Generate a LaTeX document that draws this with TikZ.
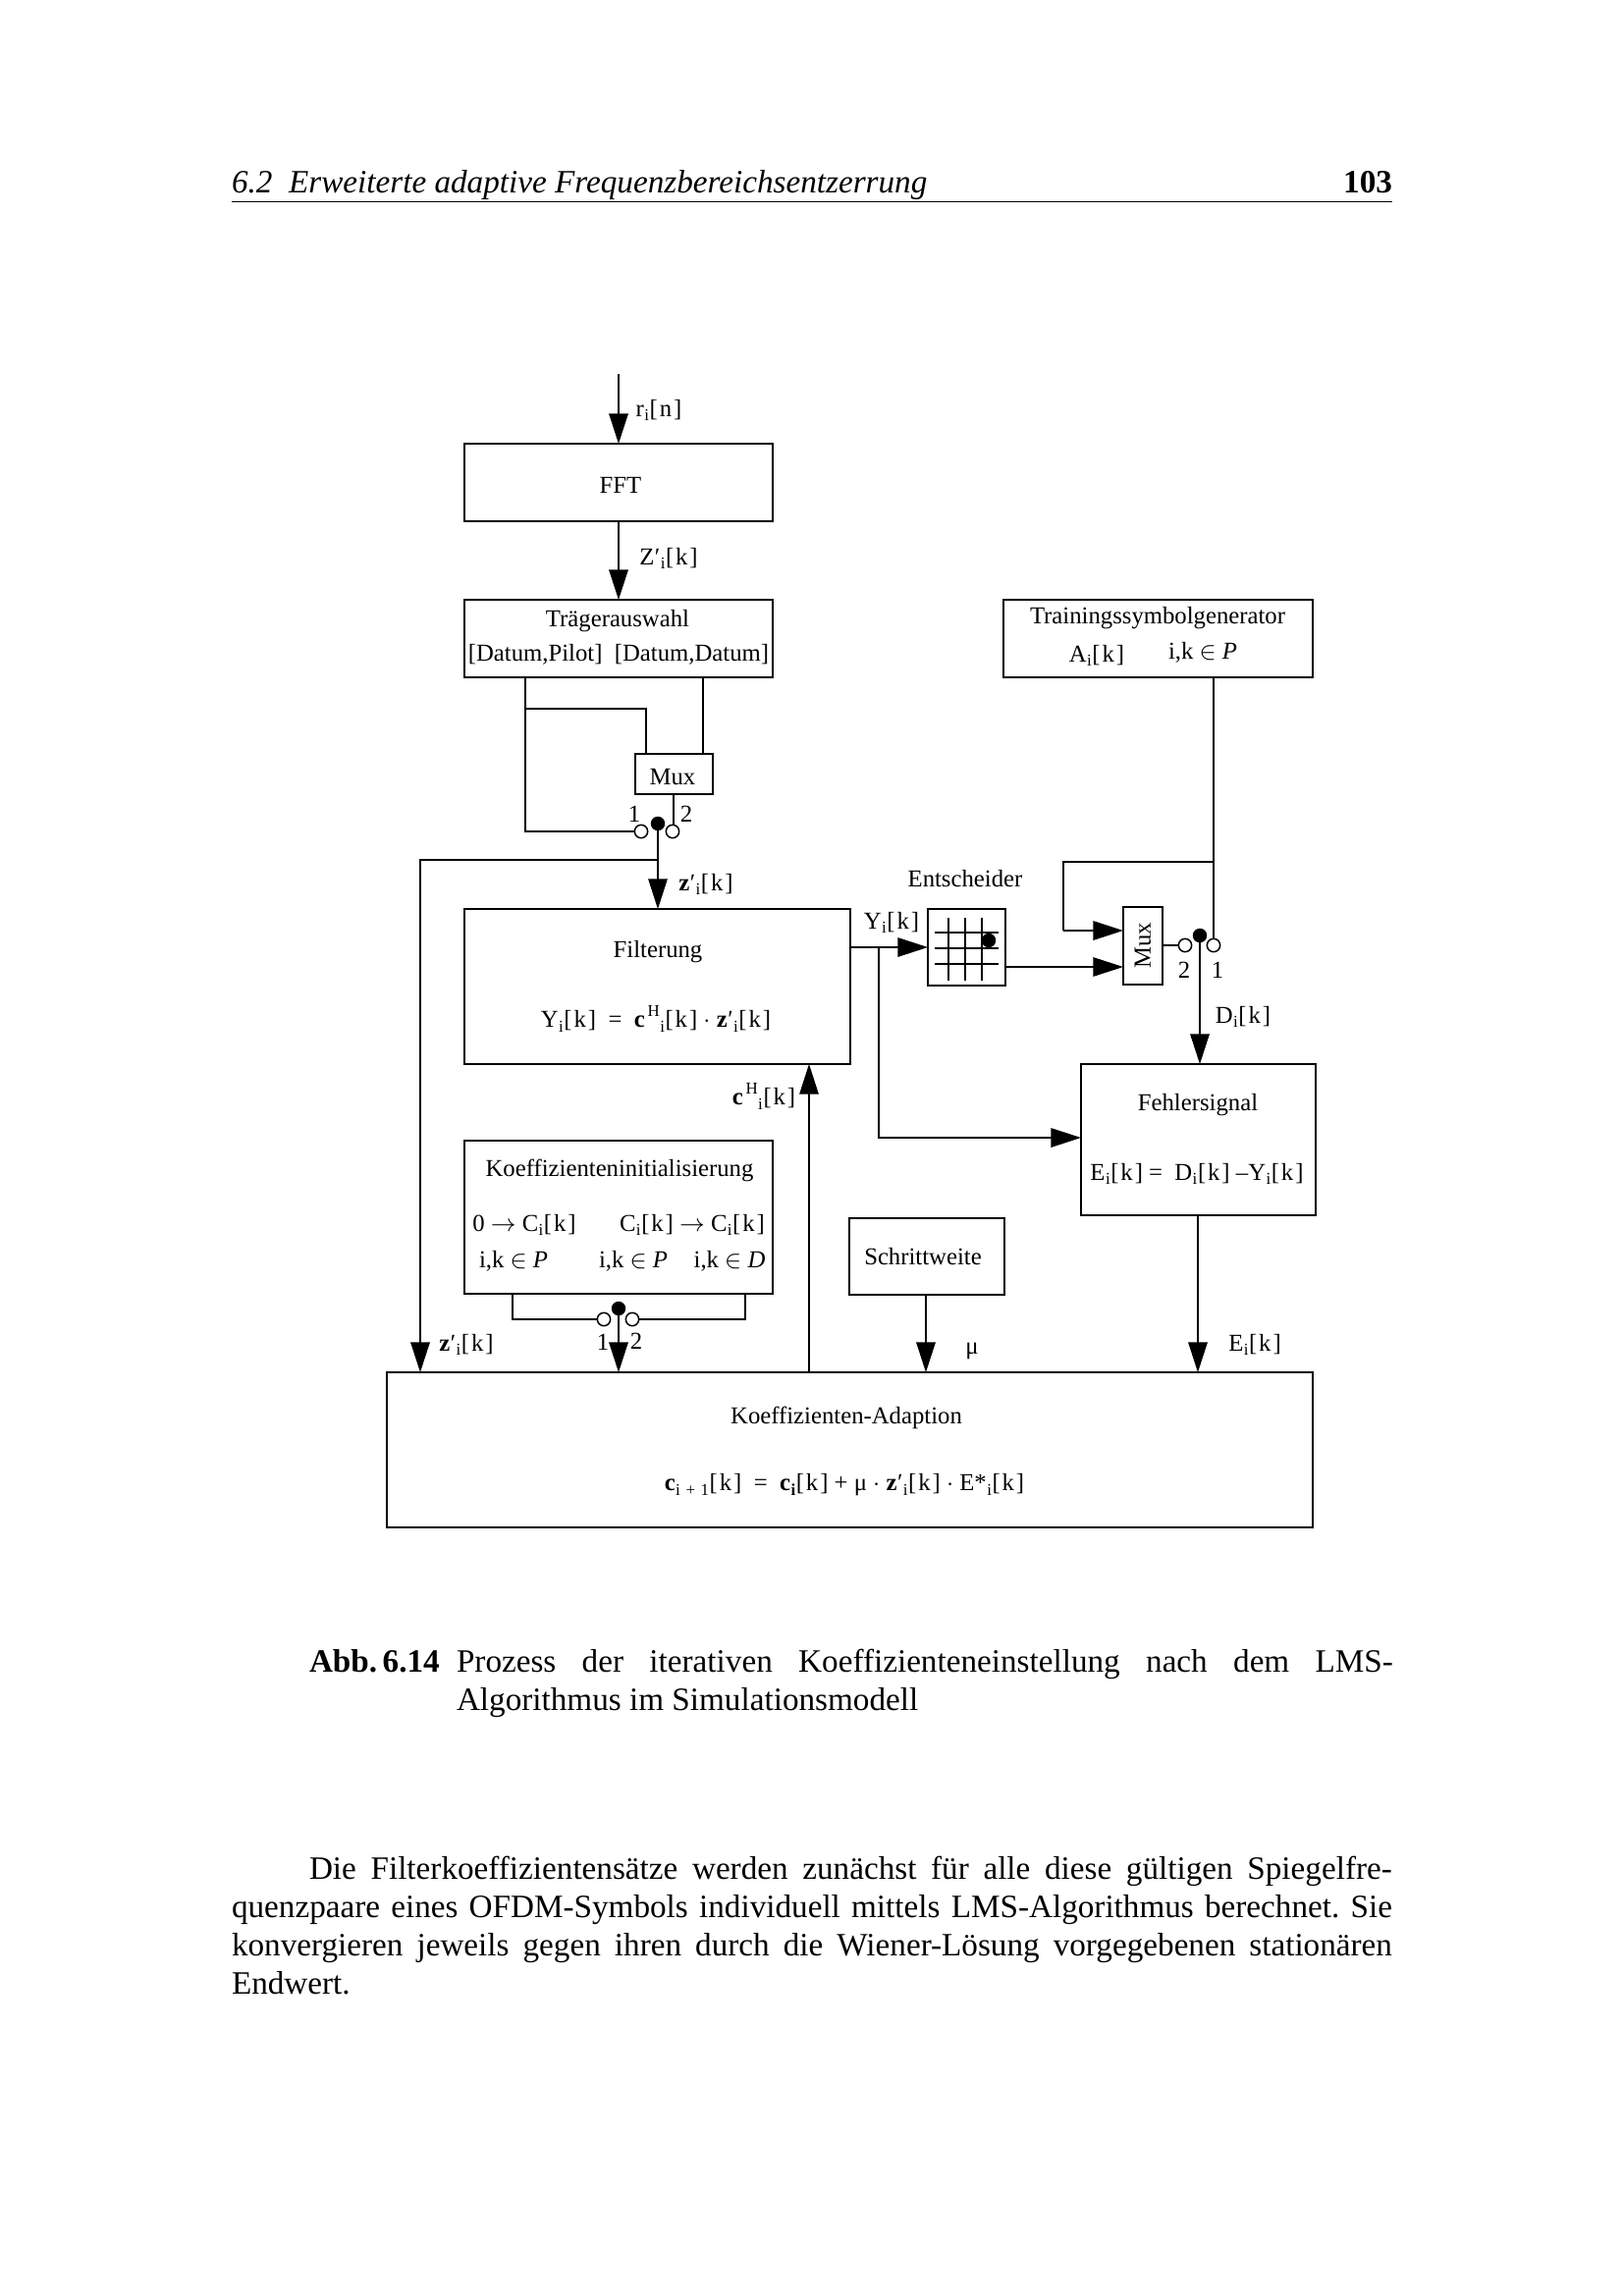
\documentclass[tikz,border=0pt]{standalone}
\usepackage{fontspec}
\setmainfont{Liberation Serif}
\usetikzlibrary{arrows.meta,calc}
\frenchspacing
\newcommand{\sbx}[1]{\kern.15pt\raisebox{-.42ex}{\fontsize{6.1}{6.5}\selectfont #1}\kern.2pt}
\newcommand{\sbi}{\sbx{i}}
\newcommand{\suph}{\raisebox{.95ex}{\fontsize{6.1}{6.5}\selectfont\,H}}
\newcommand{\brk}{[\kern.7pt k\kern.7pt]}
\newcommand{\prm}{\kern.2pt′}
\newcommand{\fzd}{\fontsize{8.9}{10.5}\selectfont}
\newcommand{\fzb}{\fontsize{11.95}{14}\selectfont}
\newcommand{\boxn}[6]{\node[blockbox,minimum width={0.36*(#4-#2)*1pt},minimum height={0.36*(#5-#3)*1pt}] (#1) at ({(#2+#4)/2},{(#3+#5)/2}) {#6};}
\tikzset{
  blockbox/.style={draw=black,line width=0.58pt,inner sep=0pt,outer sep=0pt,fill=white,font=\fzd},
  txt/.style={inner sep=0pt,outer sep=0pt,font=\fzd},
  body/.style={inner sep=0pt,outer sep=0pt,font=\fzb,anchor=base west},
  wire/.style={draw=black,line width=0.55pt},
  thin wire/.style={draw=black,line width=0.45pt},
  arr/.style={wire,-{Triangle[length=11pt,width=7pt]}},
  thin arr/.style={thin wire,-{Triangle[length=11pt,width=7pt]}},
  open/.style={circle,draw=black,line width=0.55pt,fill=white,minimum size=4.8pt,inner sep=0pt,outer sep=0pt},
  full/.style={circle,fill=black,minimum size=5.2pt,inner sep=0pt,outer sep=0pt},
}
\begin{document}
\begin{tikzpicture}[x=0.36pt,y=-0.36pt]
\useasboundingbox (0,0) rectangle (1653,2339);
\fill[white] (0,0) rectangle (1653,2339);

% page head
\node[body] (headl) at (236,196) {\textit{6.2\ \ Erweiterte adaptive Frequenzbereichsentzerrung}};
\node[body,anchor=base east] (headr) at (1418,196) {\textbf{103}};
\coordinate (rulel) at (236,205);
\coordinate (ruler) at (1418,205);
\draw[line width=0.36pt] (rulel) -- (ruler);

% boxes
\boxn{fft}{473}{452}{787}{531}{}
\boxn{tr}{473}{611}{787}{690}{}
\boxn{mux}{647}{768}{726}{809}{}
\boxn{tsg}{1022}{611}{1337}{690}{}
\boxn{fil}{473}{926}{866}{1084}{}
\boxn{ent}{945}{926}{1024}{1004}{}
\boxn{muxb}{1144}{924}{1184}{1003}{\rotatebox{90}{Mux}}
\boxn{feh}{1101}{1084}{1340}{1238}{}
\boxn{ini}{473}{1162}{787}{1318}{}
\boxn{sch}{865}{1241}{1023}{1319}{}
\boxn{ada}{394}{1398}{1337}{1556}{}

% box texts
\node[txt] (t18) at (632,494) {FFT};
\node[txt] (t19) at (685,792) {Mux};
\node[txt] (t20) at (940,1280) {Schrittweite};
\node[txt] (t1) at (629,633) {Trägerauswahl};
\node[txt] (t2) at (630,667) {[Datum,Pilot]\ \ [Datum,Datum]};
\node[txt] (t3) at (1179,630) {Trainingssymbolgenerator};
\node[txt] (t4) at (1117,668) {A\sbi\brk};
\node[txt] (t5) at (1225,665) {i,k $\in$ \textit{P}};
\node[txt] (t6) at (670,970) {Filterung};
\node[txt] (t7) at (668,1038) {Y\sbi\brk\ \ =\ \ \textbf{c}\suph\sbi\brk\ $\cdot$ \textbf{z}\prm\sbi\brk};
\node[txt] (t8) at (1220,1126) {Fehlersignal};
\node[txt] (t9) at (1219,1196) {E\sbi\brk\ =\ \ D\sbi\brk\ –Y\sbi\brk};
\node[txt] (t10) at (631,1192) {Koeffizienteninitialisierung};
\node[txt] (t11) at (534,1248) {0 $\rightarrow$ C\sbi\brk};
\node[txt] (t12) at (705,1248) {C\sbi\brk\ $\rightarrow$ C\sbi\brk};
\node[txt] (t13) at (523,1285) {i,k $\in$ \textit{P}};
\node[txt] (t14) at (645,1285) {i,k $\in$ \textit{P}};
\node[txt] (t15) at (743,1285) {i,k $\in$ \textit{D}};
\node[txt] (t16) at (862,1444) {Koeffizienten-Adaption};
\node[txt] (t17) at (860,1513) {\textbf{c}\sbx{i\,\,+\,\,1}\brk\ \ =\ \ \textbf{c}\textbf{\sbi}\brk\ + μ $\cdot$ \textbf{z}\prm\sbi\brk\ $\cdot$ E*\sbi\brk};

% signal labels
\node[txt] (l1) at (671,418) {r\sbi[\kern.7pt n\kern.7pt]};
\node[txt] (l2) at (681,569) {Z\prm\sbi\brk};
\node[txt] (l3) at (719,901) {\textbf{z}\prm\sbi\brk};
\node[txt] (l4) at (646,829) {1};
\node[txt] (l5) at (699,829) {2};
\node[txt] (l6) at (983,895) {Entscheider};
\node[txt] (l7) at (908,940) {Y\sbi\brk};
\node[txt] (l8) at (1206,988) {2};
\node[txt] (l9) at (1240,988) {1};
\node[txt] (l10) at (1266,1036) {D\sbi\brk};
\node[txt] (l11) at (778,1117) {\textbf{c}\suph\sbi\brk};
\node[txt] (l12) at (475,1370) {\textbf{z}\prm\sbi\brk};
\node[txt] (l13) at (614,1367) {1};
\node[txt] (l14) at (648,1366) {2};
\node[txt] (l15) at (990,1376) {μ};
\node[txt] (l16) at (1278,1370) {E\sbi\brk};

% switches
\node[open] (c1) at (653,847) {};
\node[open] (c2) at (685,847) {};
\node[full] (d1) at (670,839) {};
\node[open] (c3) at (1207,963) {};
\node[open] (c4) at (1236,963) {};
\node[full] (d2) at (1222,953) {};
\node[open] (c5) at (615,1344) {};
\node[open] (c6) at (644,1344) {};
\node[full] (d3) at (630,1333) {};

% connector end points
\coordinate (rtop) at (630,381);
\coordinate (tra) at (535,690);
\coordinate (trb) at (535,722);
\coordinate (trc) at (658,768);
\coordinate (trd) at (716,690);
\coordinate (mo) at (686,809);
\coordinate (zb) at (670,876);
\coordinate (zl) at (428,1398);
\coordinate (yo) at (866,965);
\coordinate (yb) at (895,965);
\coordinate (yf) at (1101,1159);
\coordinate (tsa) at (1236,878);
\coordinate (tsb) at (1083,948);
\coordinate (eo) at (1024,985);
\coordinate (cup) at (824,1084);
\coordinate (cdn) at (824,1398);
\coordinate (ia) at (522,1318);
\coordinate (ib) at (759,1318);
\coordinate (sp) at (943,1319);
\coordinate (fp) at (1220,1238);

% connectors
\draw[arr] (rtop) -- (rtop |- fft.north);
\draw[arr] (rtop |- fft.south) -- (rtop |- tr.north);
\draw[wire] (tra) |- (c1.west);
\draw[thin wire] (trb) -| (trc);
\draw[thin wire] (trd) -- (trd |- mux.north);
\draw[wire] (mo) -- (mo |- c2.north);
\draw[thin arr] (d1.center) -- (d1 |- fil.north);
\draw[arr] (zb) -| (zl);
\draw[arr] (yo) -- (yo -| ent.west);
\draw[arr] (yb) |- (yf);
\draw[wire] (c4.north |- tsg.south) -- (c4.north);
\draw[thin wire] (tsa) -| (tsb);
\draw[arr] (tsb) -- (tsb -| muxb.west);
\draw[thin arr] (eo) -- (eo -| muxb.west);
\draw[wire] (muxb.east |- c3) -- (c3.west);
\draw[arr] (d2.center) -- (d2 |- feh.north);
\draw[thin arr] (cdn) -- (cup);
\draw[wire] (ia) |- (c5.west);
\draw[wire] (ib) |- (c6.east);
\draw[arr] (d3.center) -- (d3 |- ada.north);
\draw[arr] (sp) -- (sp |- ada.north);
\draw[arr] (fp) -- (fp |- ada.north);

% decision grid
\foreach \gy in {950,966,982} \draw[wire] (952,\gy) -- (1017,\gy);
\foreach \gx in {966,983,1000} \draw[wire] (\gx,935) -- (\gx,999);
\node[full] (gd) at (1007,958) {};

% caption
\node[body] (cap1) at (315,1703) {\textbf{Abb.\,6.14}};
\node[body] (cap2) at (465,1703) {\makebox[343.4pt][s]{Prozess der iterativen Koeffizienteneinstellung nach dem LMS-}};
\node[body] (cap3) at (465,1742) {Algorithmus im Simulationsmodell};

% running text
\node[body] (p1) at (315,1914) {\makebox[397pt][s]{Die Filterkoeffizientensätze werden zunächst für alle diese gültigen Spiegelfre-}};
\node[body] (p2) at (236,1953) {\makebox[425.5pt][s]{quenzpaare eines OFDM-Symbols individuell mittels LMS-Algorithmus berechnet. Sie}};
\node[body] (p3) at (236,1992) {\makebox[425.5pt][s]{konvergieren jeweils gegen ihren durch die Wiener-Lösung vorgegebenen stationären}};
\node[body] (p4) at (236,2031) {Endwert.};
\end{tikzpicture}
\end{document}
